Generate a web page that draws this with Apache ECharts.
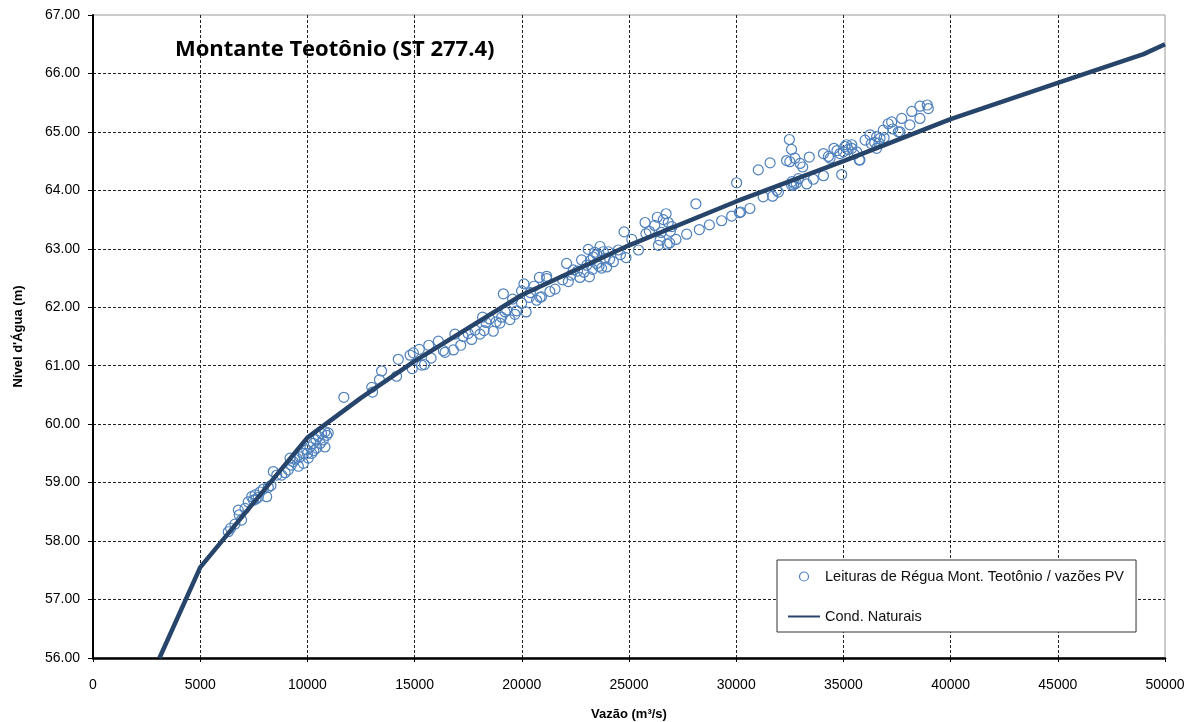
<!DOCTYPE html>
<html>
<head>
<meta charset="utf-8">
<title>Montante Teotônio (ST 277.4)</title>
<script src="https://cdn.jsdelivr.net/npm/echarts@6/dist/echarts.min.js"></script>
<style>
  html, body { margin: 0; padding: 0; background: #ffffff; overflow: hidden; }
  #chart { position: absolute; left: 0; top: 0; width: 1195px; height: 722px; }
</style>
</head>
<body>
<div id="chart"></div>
<script>
// Rating curve under natural conditions: [flow m³/s, level m]
const curveFlow  = [3100, 5000, 10000, 12500, 15000, 20000, 25000, 30000, 35000, 40000, 45000, 49000, 50000];
const curveLevel = [56.00, 57.55, 59.77, 60.45, 61.08, 62.21, 63.06, 63.81, 64.50, 65.22, 65.84, 66.33, 66.50];

// Staff gauge readings vs. PV discharges
const readFlow = [
  6310, 6420, 6620, 6820, 6930, 6780, 7090, 7240, 7400, 7480, 7560, 7600, 7710, 7790, 7940, 8100, 8180, 8300,
  8410, 8570, 8800, 8960, 9110, 9190, 9250, 9340, 9400, 9500, 9580, 9650, 9810, 9810, 9970, 10000, 10040, 10120,
  10200, 10280, 10300, 10400, 10430, 10510, 10590, 10660, 10740, 10820, 10820, 10900, 10970,
  11700, 13000, 13040, 13360, 13460, 14160, 14240, 14790, 14890, 14940, 15220, 15330, 15460, 15660,
  15770, 16110, 16340, 16420, 16810, 16880, 17150, 17270, 17500, 17660, 17820, 18050, 18170, 18240, 18330,
  18500, 18670, 18800, 18980, 19060, 19140, 19220, 19300, 19450, 19570, 19680, 19760, 19990, 19990, 20100, 20200,
  20350, 20400, 20570, 20690, 20820, 20850, 20920, 21160, 21160, 21310, 21550, 21900, 22090, 22170, 22300, 22400,
  22600, 22710, 22790, 22900, 23030, 23100, 23150, 23200, 23300, 23330, 23400, 23490, 23500, 23600, 23650, 23720,
  23800, 23880, 23960, 24030, 24100, 24270, 24500, 24600,
  24770, 24860, 25130, 25440, 25750, 25790, 25950, 26200, 26320, 26370, 26450, 26500, 26600, 26730, 26780, 26830,
  26900, 26930, 27000,
  27190, 27690, 28120, 28280, 28750, 29320, 29790, 30150, 30020, 30210, 30640, 31030, 31260, 31580,
  31700, 31890, 31970, 32350, 32480, 32500, 32580, 32580, 32600, 32670, 32700, 32740, 32800, 32900, 32980, 33100,
  33290, 33410, 33600, 34070, 34070, 34300, 34380, 34560, 34700, 34840, 34920, 35000, 35070, 35150, 35230, 35390,
  35390, 35500, 35620, 35740, 35770, 36010, 36240, 36300, 36460, 36550, 36550, 36660, 36710, 36860, 36900, 37090,
  37250, 37300, 37560, 37640, 37720, 38100, 38190, 38570, 38570, 38910, 38960
];
const readLevel = [
  58.16, 58.22, 58.29, 58.45, 58.36, 58.53, 58.56, 58.67, 58.76, 58.70, 58.79, 58.72, 58.75, 58.84, 58.89, 58.76, 58.92, 58.95,
  59.19, 59.13, 59.13, 59.17, 59.22, 59.42, 59.30, 59.36, 59.40, 59.42, 59.28, 59.44, 59.50, 59.33, 59.56, 59.50, 59.42, 59.61,
  59.50, 59.67, 59.55, 59.73, 59.59, 59.79, 59.67, 59.84, 59.73, 59.87, 59.61, 59.81, 59.85,
  60.46, 60.63, 60.55, 60.76, 60.91, 60.82, 61.11, 61.18, 60.95, 61.22, 61.28, 61.01, 61.02, 61.35,
  61.13, 61.42, 61.26, 61.23, 61.27, 61.54, 61.35, 61.50, 61.55, 61.45, 61.61, 61.54, 61.83, 61.60, 61.74,
  61.80, 61.59, 61.75, 61.73, 61.83, 62.23, 61.92, 61.95, 61.79, 62.14, 61.88, 61.94, 62.07, 62.28, 62.40, 61.92,
  62.17, 62.25, 62.36, 62.12, 62.51, 62.17, 62.18, 62.49, 62.53, 62.27, 62.31, 62.47, 62.75, 62.44, 62.55, 62.64,
  62.62, 62.51, 62.81, 62.60, 62.72, 62.99, 62.52, 62.80, 62.65, 62.86, 62.94, 62.75, 62.90, 62.70, 63.04, 62.67,
  62.95, 62.84, 62.69, 62.95, 62.82, 62.78, 62.98, 62.90,
  63.29, 62.85, 63.16, 62.98, 63.45, 63.26, 63.30, 63.40, 63.54, 63.06, 63.15, 63.28, 63.50, 63.60, 63.08, 63.45,
  63.10, 63.30, 63.38,
  63.16, 63.25, 63.77, 63.33, 63.41, 63.48, 63.56, 63.62, 64.13, 63.63, 63.69, 64.35, 63.89, 64.47,
  63.90, 64.00, 63.97, 64.51, 64.87, 64.49, 64.70, 64.09, 64.15, 64.09, 64.12, 64.55, 64.12, 64.20, 64.46, 64.40,
  64.11, 64.57, 64.19, 64.25, 64.63, 64.58, 64.55, 64.72, 64.68, 64.63, 64.27, 64.66, 64.75, 64.78, 64.70, 64.78,
  64.72, 64.62, 64.66, 64.52, 64.52, 64.86, 64.95, 64.80, 64.82, 64.92, 64.72, 64.81, 64.89, 65.03, 64.90, 65.14,
  65.17, 65.05, 65.00, 65.00, 65.23, 65.12, 65.35, 65.44, 65.23, 65.46, 65.40
];

const xTicks = { min: 0, max: 50000, interval: 5000 };
const yTicks = { min: 56, max: 67, interval: 1 };

const curveData = curveFlow.map((q, i) => [q, curveLevel[i]]);
const readData  = readFlow.map((q, i) => [q, readLevel[i]]);

const FONT = '"Liberation Sans", Arial, sans-serif';
const READ_COLOR = '#4f81bd';
const CURVE_COLOR = '#27456a';
const gridLine = { show: true, showMinLine: false, showMaxLine: false,
  lineStyle: { color: '#222', width: 1, type: [3, 2] } };

const chart = echarts.init(document.getElementById('chart'), null,
  { renderer: 'canvas', width: 1195, height: 722 });
chart.setOption({
  backgroundColor: '#ffffff',
  animation: false,
  title: {
    text: 'Montante Teotônio (ST 277.4)',
    left: 170, top: 34,
    textStyle: { fontFamily: '"Open Sans", sans-serif', fontSize: 22, fontWeight: 'bold', color: '#000' }
  },
  grid: {
    left: 93, right: 30, top: 15, bottom: 64,
    outerBoundsMode: 'none', containLabel: false,
    show: true, borderColor: '#9a9a9a', borderWidth: 1, backgroundColor: 'transparent'
  },
  xAxis: {
    type: 'value',
    min: xTicks.min, max: xTicks.max, interval: xTicks.interval,
    name: 'Vazão (m³/s)', nameLocation: 'middle', nameGap: 50,
    nameTextStyle: { fontFamily: FONT, fontSize: 13, fontWeight: 'bold', color: '#000' },
    axisLine: { show: true, onZero: false, lineStyle: { color: '#000', width: 2.5 } },
    axisTick: { show: true, length: 4, lineStyle: { color: '#000' } },
    axisLabel: { fontFamily: FONT, fontSize: 14, color: '#000', margin: 20,
      formatter: v => String(v) },
    splitLine: gridLine
  },
  yAxis: {
    type: 'value',
    min: yTicks.min, max: yTicks.max, interval: yTicks.interval,
    name: 'Nível d\'Água (m)', nameLocation: 'middle', nameGap: 68,
    nameTextStyle: { fontFamily: FONT, fontSize: 13, fontWeight: 'bold', color: '#000' },
    axisLine: { show: true, onZero: false, lineStyle: { color: '#000', width: 2 } },
    axisTick: { show: true, length: 5, lineStyle: { color: '#000' } },
    axisLabel: { fontFamily: FONT, fontSize: 14, color: '#000', margin: 13,
      formatter: v => v.toFixed(2) },
    splitLine: gridLine
  },
  legend: {
    orient: 'vertical',
    left: 777, top: 560,
    padding: [9, 12, 8, 10],
    itemGap: 25,
    itemWidth: 32, itemHeight: 9,
    backgroundColor: '#ffffff',
    borderColor: '#333', borderWidth: 1,
    textStyle: { fontFamily: FONT, fontSize: 14.5, color: '#111' },
    data: [
      { name: 'Leituras de Régua Mont. Teotônio / vazões PV', icon: 'circle',
        itemStyle: { color: 'transparent', borderColor: READ_COLOR, borderWidth: 1.2 } },
      { name: 'Cond. Naturais', itemStyle: { opacity: 0 } }
    ]
  },
  series: [
    {
      name: 'Leituras de Régua Mont. Teotônio / vazões PV',
      type: 'scatter',
      data: readData,
      symbol: 'circle',
      symbolSize: 10,
      itemStyle: { color: 'transparent', borderColor: READ_COLOR, borderWidth: 1.2, opacity: 1 },
      z: 2
    },
    {
      name: 'Cond. Naturais',
      type: 'line',
      data: curveData,
      showSymbol: false,
      symbol: 'none',
      lineStyle: { color: CURVE_COLOR, width: 4.5 },
      itemStyle: { color: CURVE_COLOR },
      z: 3
    }
  ]
});
</script>
</body>
</html>
